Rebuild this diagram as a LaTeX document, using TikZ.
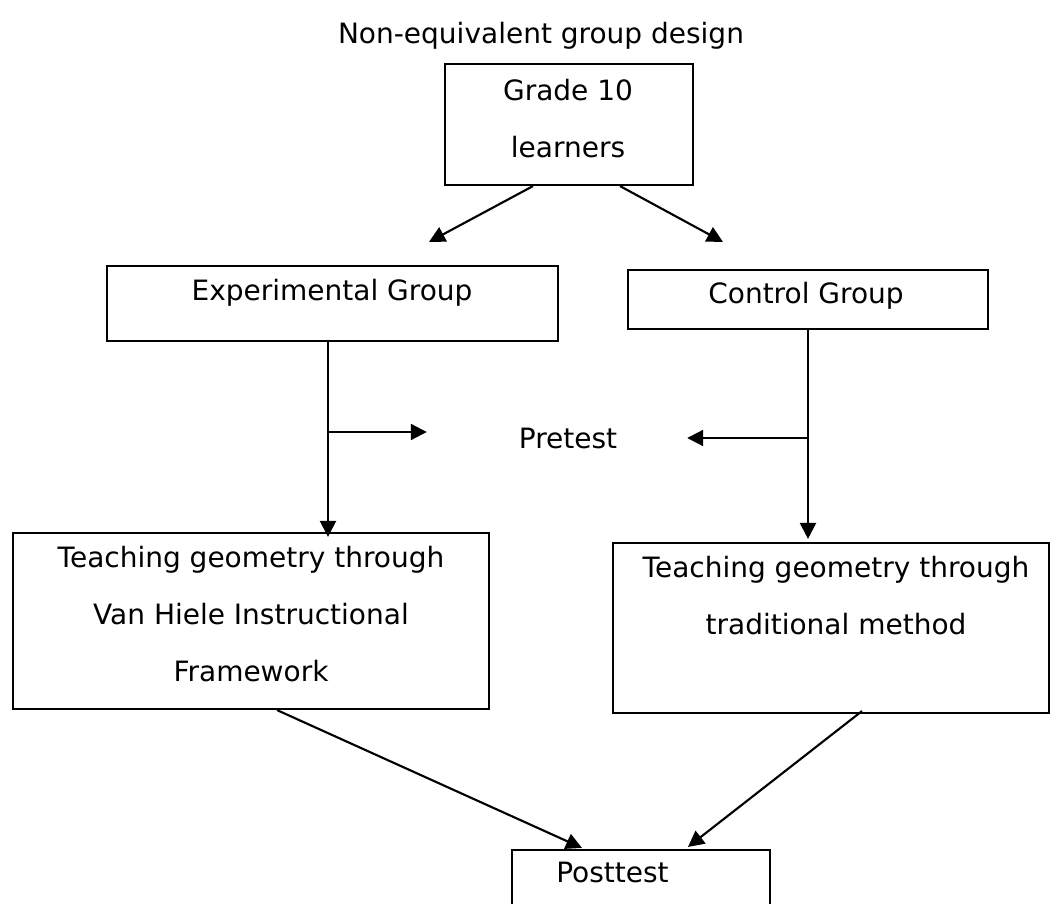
\documentclass[tikz,border=0pt]{standalone}
\usepackage{fontspec}
\setmainfont{DejaVu Sans}
\usepackage{tikz}
\usetikzlibrary{arrows.meta,calc}
\tikzset{>={Triangle[width=12pt,length=12pt]}}

\begin{document}
\begin{tikzpicture}[x=0.75pt, y=-0.75pt, line width=1.6pt,
    box/.style={draw, rectangle, inner sep=0pt},
    txt/.style={inner sep=0pt, align=center}]

  \fontsize{21}{43}\selectfont

  \newcommand\Px{0.75pt};

  \useasboundingbox (0,0) rectangle (1051,904);

  \node[txt, anchor=base] (title) at (541,43) {Non-equivalent group design};

  % boxes
  \node[box, minimum width=248*\Px, minimum height=121*\Px] (grade) at (569,124.5) {};
  \node[txt] (gradetxt) at (568,118.5) {Grade 10\\learners};

  \node[box, minimum width=451*\Px, minimum height=75*\Px] (exp) at (332.5,303.5) {};
  \node[txt, anchor=base] (exptxt) at (332,300) {Experimental Group};

  \node[box, minimum width=360*\Px, minimum height=59*\Px] (ctrl) at (808,299.5) {};
  \node[txt, anchor=base] (ctrltxt) at (806,303) {Control Group};

  \node[txt, anchor=base] (pre) at (568,448) {Pretest};

  \node[box, minimum width=476*\Px, minimum height=176*\Px] (van) at (251,621) {};
  \node[txt] (vantxt) at (251,614) {Teaching geometry through\\Van Hiele Instructional\\Framework};

  \node[box, minimum width=436*\Px, minimum height=170*\Px] (trad) at (831,628) {};
  \node[txt] (tradtxt) at (836,595.5) {Teaching geometry through\\traditional method};

  \node[box, minimum width=258*\Px, minimum height=70*\Px] (post) at (641,885) {};
  \node[txt, anchor=base] (posttxt) at (612.5,882) {Posttest};

  % arrows
  \draw[->] ($(grade.south)+(-36,0)$) -- ($(exp.north)+(96.5,-23)$); %% grade->exp
  \draw[->] ($(grade.south)+(51,0)$) -- ($(ctrl.north)+(-85,-27)$); %% grade->ctrl

  \draw[->] ($(exp.south)+(-4.5,0)$) -- ($(exp.south |- van.north)+(-4.5,5)$); %% exp->van
  \draw[->] (ctrl.south) -- ($(ctrl.south |- trad.north)+(0,-3)$); %% ctrl->trad

  \draw[->] ($(exp.south |- pre.west)+(-4.5,-6)$) -- ($(pre.west)+(-91,-6)$); %% exp->pre
  \draw[->] (ctrl.south |- pre.east) -- ($(pre.east)+(69,0)$); %% ctrl->pre

  \draw[->] ($(van.south)+(26,0)$) -- ($(post.north)+(-59,-1)$); %% van->post
  \draw[->] ($(trad.south)+(31,-3)$) -- ($(post.north)+(47,-2)$); %% trad->post

\end{tikzpicture}
\end{document}
